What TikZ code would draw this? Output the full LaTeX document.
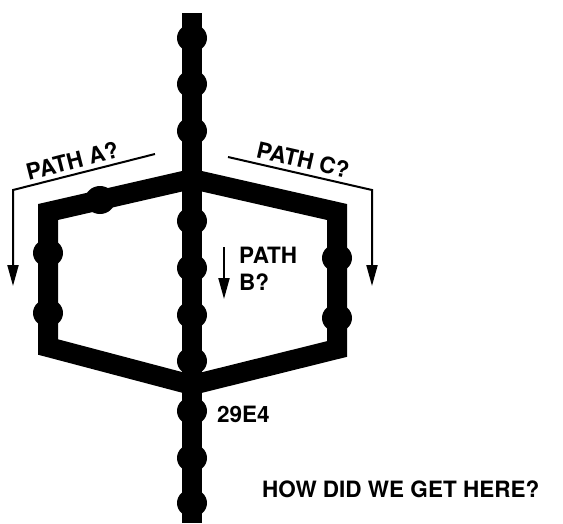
\documentclass[tikz,border=0pt]{standalone}
\usepackage{fontspec}
\setmainfont{TeX Gyre Heros}
\usetikzlibrary{arrows.meta,shapes.geometric}
\begin{document}
\begin{tikzpicture}[x=1pt,y=-1pt,
  trace/.style={line width=20pt, line join=miter, draw=black},
  bead/.style={ellipse, fill=black, inner sep=0pt, minimum width=30pt, minimum height=28pt},
  arrowline/.style={line width=2pt, line join=miter, -{Triangle[length=21pt,width=11pt]}},
  lbl/.style={font=\bfseries\fontsize{22.5}{22.5}\selectfont, inner sep=2pt}]
\useasboundingbox[fill=white] (0,0) rectangle (563,523);
% main vertical trace
\coordinate (top) at (192,13);
\coordinate (bot) at (192,523);
\draw[line width=20pt] (top) -- (bot);
% hexagon
\coordinate (jt) at (192,179);
\coordinate (tl) at (48,212);
\coordinate (bl) at (48,347);
\coordinate (jb) at (192,385);
\coordinate (br) at (337,349);
\coordinate (tr) at (337,212);
\draw[trace] (jt) -- (tl) -- (bl) -- (jb) -- (br) -- (tr) -- cycle;
% beads on vertical trace
\foreach \y/\n in {38/v1,84/v2,131/v3,221/v4,268/v5,315/v6,361/v7,411/v8,458/v9,503/v10}
  \node[bead] (\n) at (192,\y) {};
% beads on hexagon
\node[bead] (h1) at (100,200) {};
\node[bead] (h2) at (48,253) {};
\node[bead] (h3) at (48,313) {};
\node[bead] (h4) at (337,258) {};
\node[bead] (h5) at (337,318) {};
% path A arrow
\coordinate (a1) at (155,154);
\coordinate (a2) at (13,190);
\coordinate (a3) at (13,286);
\draw[arrowline] (a1) -- (a2) -- (a3);
\path (a2) -- (a1) node[lbl, pos=0.44, sloped, above=3pt] (la) {PATH A?};
% path C arrow
\coordinate (c1) at (228,157);
\coordinate (c2) at (372,190);
\coordinate (c3) at (372,286);
\draw[arrowline] (c1) -- (c2) -- (c3);
\path (c1) -- (c2) node[lbl, pos=0.5, sloped, above=3pt] (lc) {PATH C?};
% path B arrow
\coordinate (b1) at (224,247);
\coordinate (b2) at (224,299);
\draw[arrowline] (b1) -- (b2);
\node[lbl, anchor=base west, inner sep=0pt] (lb1) at (239,263) {PATH};
\node[lbl, anchor=base west, inner sep=0pt] (lb2) at (239,290) {B?};
% other labels
\node[lbl, anchor=base west, inner sep=0pt] (l29) at (217,422) {29E4};
\node[lbl, anchor=base west, inner sep=0pt] (lhow) at (262,497) {HOW DID WE GET HERE?};
\end{tikzpicture}
\end{document}
